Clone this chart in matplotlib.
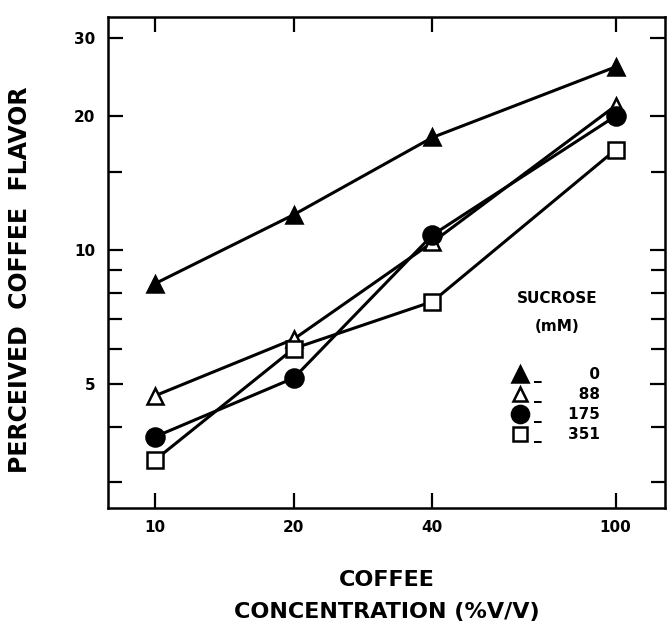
import matplotlib
matplotlib.use('Agg')
import matplotlib.pyplot as plt
from matplotlib.lines import Line2D
from matplotlib.ticker import FixedLocator, NullFormatter

# data
conc = [10, 20, 40, 100]
flavor_0 = [8.4, 12.0, 17.9, 25.8]
flavor_88 = [4.7, 6.3, 10.4, 21.1]
flavor_175 = [3.8, 5.15, 10.8, 20.0]
flavor_351 = [3.37, 6.0, 7.65, 16.8]
sucrose = ['0', '88', '175', '351']

y_major = [5, 10, 20, 30]
y_minor = [3, 4, 6, 7, 8, 9, 15]
x_ticks = [10, 20, 40, 100]

plt.rcParams['font.family'] = ['DejaVu Sans']
plt.rcParams['font.weight'] = 'bold'

fig = plt.figure(figsize=(6.67, 6.30), dpi=100, facecolor='white')
ax = fig.add_axes([0.162, 0.194, 0.835, 0.779])

K = 'black'
styles = [
    dict(marker='^', mfc=K, ms=12),
    dict(marker='^', mfc='white', ms=11),
    dict(marker='s', mfc='white', ms=11),
    dict(marker='o', mfc=K, ms=13),
]
series = [flavor_0, flavor_88, flavor_351, flavor_175]
for ys, st in zip(series, styles):
    ax.plot(conc, ys, color=K, lw=2.2, mec=K, mew=1.8, **st)

ax.set_xscale('log')
ax.set_yscale('log')
ax.set_xlim(7.9, 128)
ax.set_ylim(2.63, 33.4)

ax.xaxis.set_major_locator(FixedLocator(x_ticks))
ax.xaxis.set_minor_locator(FixedLocator([]))
ax.set_xticklabels([str(v) for v in x_ticks])
ax.xaxis.set_minor_formatter(NullFormatter())
ax.yaxis.set_major_locator(FixedLocator(y_major))
ax.yaxis.set_minor_locator(FixedLocator(y_minor))
ax.set_yticklabels([str(v) for v in y_major])
ax.yaxis.set_minor_formatter(NullFormatter())

ax.tick_params(which='both', direction='in', top=True, right=True,
               width=1.6, color=K, labelsize=11)
ax.tick_params(which='major', length=11)
ax.tick_params(which='minor', length=10)
ax.tick_params(axis='x', pad=9)
ax.tick_params(axis='y', pad=9)
for s in ax.spines.values():
    s.set_linewidth(1.8)

ax.set_xlabel('COFFEE\nCONCENTRATION (%V/V)', fontsize=16, fontweight='bold',
              linespacing=1.75)
ax.xaxis.set_label_coords(0.5, -0.127)
ax.set_ylabel('PERCEIVED  COFFEE  FLAVOR', fontsize=17, fontweight='bold')
ax.yaxis.set_label_coords(-0.136, 0.464)

# legend
handles = [Line2D([], [], color=K, ls='none', mec=K, mew=1.8, **st)
           for st in [styles[0], styles[1], styles[3], styles[2]]]
labels = ['_\u2007\u2007 ' + v.rjust(3, '\u2007') for v in sucrose]
leg = ax.legend(handles, labels, title='SUCROSE\n(mM)\n', loc='upper left',
                bbox_to_anchor=(0.718, 0.455), frameon=False, fontsize=11,
                title_fontsize=11, handlelength=0.8, handletextpad=0.5,
                labelspacing=0.26, borderaxespad=0, markerscale=0.95)
leg.get_title().set_fontweight('bold')
leg.get_title().set_multialignment('center')
leg.get_title().set_linespacing(2.15)

fig.savefig('out.png', dpi=100, facecolor='white')
